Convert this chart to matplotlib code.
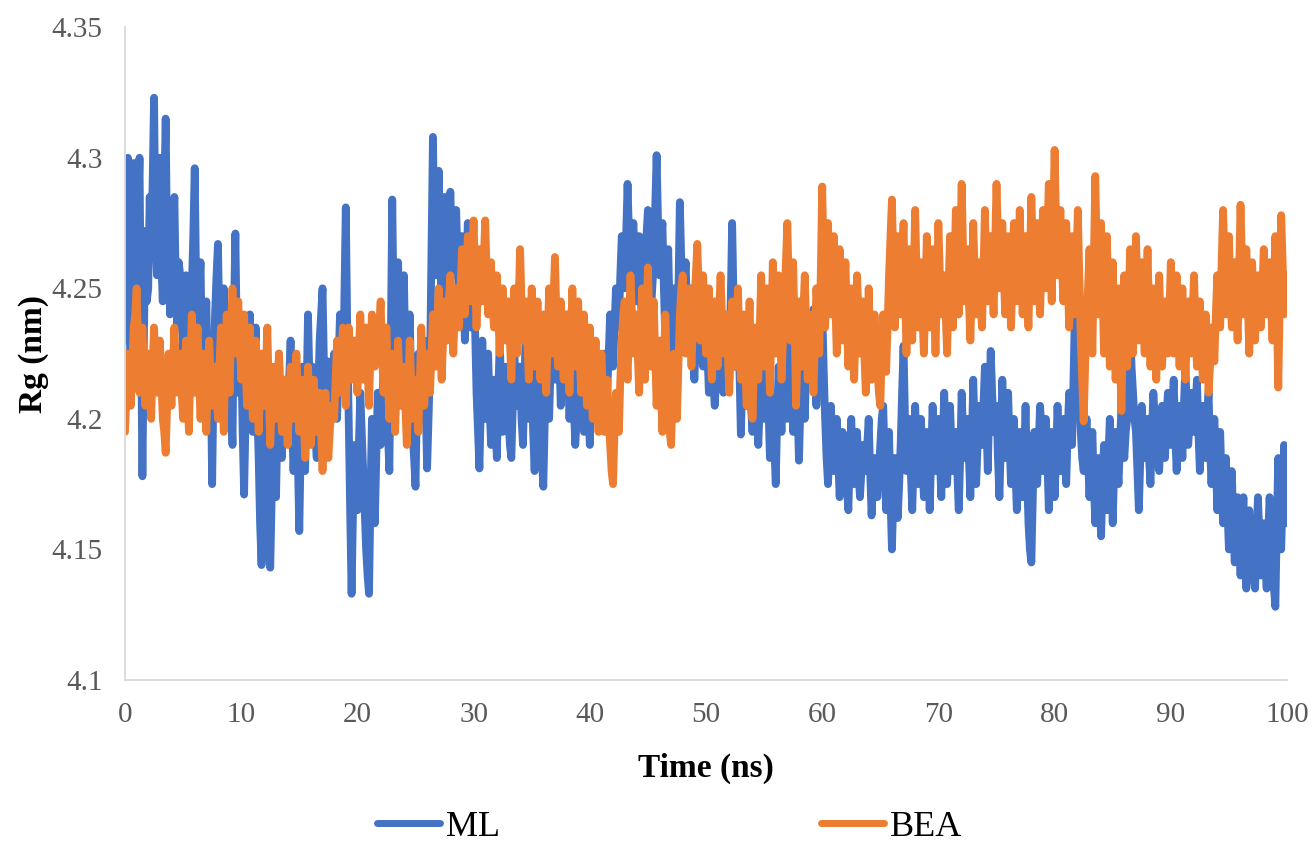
import numpy as np
import matplotlib.pyplot as plt

# Radius of gyration over a 100 ns trajectory, one frame every 0.125 ns
# (eight frames per row, one row per nanosecond)
STEP_NS = 0.125

rg_ml = [
    4.230, 4.265, 4.300, 4.240, 4.215, 4.260, 4.298, 4.255,
    4.240, 4.275, 4.300, 4.235, 4.178, 4.230, 4.272, 4.245,
    4.250, 4.285, 4.265, 4.290, 4.323, 4.270, 4.255, 4.280,
    4.300, 4.260, 4.245, 4.285, 4.315, 4.265, 4.270, 4.240,
    4.250, 4.270, 4.285, 4.250, 4.235, 4.260, 4.255, 4.240,
    4.225, 4.245, 4.255, 4.230, 4.215, 4.240, 4.250, 4.270,
    4.296, 4.250, 4.225, 4.245, 4.260, 4.225, 4.205, 4.230,
    4.245, 4.215, 4.200, 4.220, 4.175, 4.215, 4.240, 4.255,
    4.267, 4.235, 4.215, 4.235, 4.250, 4.220, 4.200, 4.220,
    4.235, 4.210, 4.190, 4.240, 4.271, 4.230, 4.210, 4.225,
    4.225, 4.195, 4.171, 4.200, 4.215, 4.225, 4.240, 4.215,
    4.195, 4.220, 4.235, 4.205, 4.185, 4.160, 4.144, 4.180,
    4.205, 4.180, 4.165, 4.150, 4.143, 4.170, 4.190, 4.175,
    4.170, 4.200, 4.225, 4.200, 4.185, 4.205, 4.215, 4.200,
    4.195, 4.215, 4.230, 4.200, 4.180, 4.195, 4.210, 4.185,
    4.157, 4.190, 4.220, 4.200, 4.180, 4.210, 4.240, 4.215,
    4.200, 4.220, 4.215, 4.195, 4.185, 4.210, 4.230, 4.240,
    4.250, 4.220, 4.195, 4.210, 4.222, 4.200, 4.205, 4.215,
    4.225, 4.210, 4.200, 4.220, 4.240, 4.225, 4.215, 4.245,
    4.281, 4.235, 4.200, 4.165, 4.133, 4.165, 4.190, 4.175,
    4.165, 4.190, 4.210, 4.195, 4.180, 4.165, 4.150, 4.140,
    4.133, 4.170, 4.200, 4.180, 4.160, 4.185, 4.210, 4.200,
    4.190, 4.205, 4.220, 4.210, 4.205, 4.195, 4.180, 4.230,
    4.284, 4.240, 4.215, 4.240, 4.260, 4.235, 4.220, 4.240,
    4.255, 4.225, 4.205, 4.225, 4.240, 4.215, 4.195, 4.185,
    4.174, 4.205, 4.225, 4.210, 4.200, 4.215, 4.230, 4.205,
    4.181, 4.200, 4.220, 4.265, 4.308, 4.270, 4.255, 4.275,
    4.295, 4.265, 4.240, 4.265, 4.285, 4.260, 4.250, 4.270,
    4.287, 4.265, 4.255, 4.270, 4.280, 4.260, 4.245, 4.260,
    4.270, 4.250, 4.230, 4.255, 4.275, 4.250, 4.235, 4.250,
    4.265, 4.235, 4.210, 4.195, 4.181, 4.205, 4.230, 4.210,
    4.200, 4.215, 4.225, 4.205, 4.190, 4.205, 4.215, 4.200,
    4.185, 4.210, 4.230, 4.210, 4.195, 4.210, 4.220, 4.205,
    4.200, 4.190, 4.185, 4.205, 4.225, 4.215, 4.205, 4.215,
    4.220, 4.200, 4.190, 4.215, 4.235, 4.215, 4.200, 4.210,
    4.215, 4.195, 4.180, 4.205, 4.230, 4.210, 4.195, 4.185,
    4.174, 4.200, 4.225, 4.210, 4.200, 4.220, 4.240, 4.225,
    4.215, 4.230, 4.245, 4.225, 4.205, 4.220, 4.230, 4.235,
    4.240, 4.220, 4.200, 4.215, 4.225, 4.205, 4.190, 4.200,
    4.210, 4.225, 4.235, 4.215, 4.195, 4.210, 4.220, 4.205,
    4.190, 4.210, 4.230, 4.215, 4.205, 4.210, 4.215, 4.205,
    4.200, 4.215, 4.225, 4.215, 4.210, 4.225, 4.240, 4.230,
    4.220, 4.235, 4.250, 4.240, 4.235, 4.255, 4.270, 4.260,
    4.250, 4.270, 4.290, 4.270, 4.255, 4.265, 4.275, 4.260,
    4.245, 4.260, 4.270, 4.250, 4.235, 4.250, 4.265, 4.270,
    4.280, 4.260, 4.240, 4.250, 4.260, 4.280, 4.301, 4.275,
    4.255, 4.265, 4.275, 4.250, 4.230, 4.250, 4.265, 4.240,
    4.220, 4.235, 4.250, 4.230, 4.215, 4.250, 4.283, 4.260,
    4.240, 4.250, 4.260, 4.240, 4.225, 4.240, 4.250, 4.230,
    4.215, 4.230, 4.245, 4.235, 4.230, 4.225, 4.220, 4.230,
    4.240, 4.225, 4.210, 4.220, 4.230, 4.215, 4.205, 4.215,
    4.225, 4.235, 4.240, 4.225, 4.210, 4.225, 4.235, 4.225,
    4.215, 4.245, 4.275, 4.245, 4.220, 4.235, 4.245, 4.220,
    4.194, 4.215, 4.230, 4.215, 4.205, 4.210, 4.220, 4.205,
    4.195, 4.210, 4.225, 4.205, 4.190, 4.205, 4.215, 4.205,
    4.200, 4.215, 4.230, 4.205, 4.185, 4.200, 4.210, 4.190,
    4.175, 4.200, 4.220, 4.205, 4.195, 4.215, 4.230, 4.215,
    4.200, 4.220, 4.240, 4.215, 4.195, 4.210, 4.225, 4.205,
    4.184, 4.205, 4.220, 4.210, 4.200, 4.220, 4.235, 4.225,
    4.215, 4.230, 4.242, 4.220, 4.205, 4.220, 4.230, 4.235,
    4.242, 4.220, 4.200, 4.185, 4.175, 4.190, 4.205, 4.190,
    4.180, 4.190, 4.200, 4.185, 4.170, 4.185, 4.195, 4.190,
    4.185, 4.175, 4.165, 4.185, 4.200, 4.185, 4.175, 4.185,
    4.195, 4.180, 4.170, 4.180, 4.190, 4.185, 4.180, 4.190,
    4.200, 4.180, 4.163, 4.175, 4.185, 4.175, 4.170, 4.180,
    4.190, 4.200, 4.205, 4.185, 4.165, 4.180, 4.195, 4.170,
    4.150, 4.170, 4.185, 4.175, 4.162, 4.175, 4.190, 4.210,
    4.228, 4.200, 4.180, 4.190, 4.200, 4.180, 4.165, 4.185,
    4.205, 4.190, 4.175, 4.185, 4.200, 4.185, 4.170, 4.180,
    4.195, 4.180, 4.165, 4.185, 4.205, 4.190, 4.180, 4.190,
    4.200, 4.185, 4.170, 4.190, 4.210, 4.190, 4.175, 4.190,
    4.205, 4.190, 4.180, 4.185, 4.195, 4.180, 4.165, 4.185,
    4.210, 4.195, 4.185, 4.190, 4.200, 4.185, 4.170, 4.190,
    4.215, 4.195, 4.175, 4.190, 4.205, 4.195, 4.190, 4.205,
    4.220, 4.200, 4.180, 4.205, 4.226, 4.210, 4.195, 4.200,
    4.205, 4.185, 4.170, 4.190, 4.215, 4.200, 4.185, 4.195,
    4.210, 4.190, 4.175, 4.185, 4.200, 4.180, 4.165, 4.180,
    4.195, 4.180, 4.170, 4.185, 4.205, 4.180, 4.160, 4.150,
    4.145, 4.170, 4.195, 4.185, 4.175, 4.190, 4.205, 4.195,
    4.180, 4.190, 4.200, 4.185, 4.165, 4.180, 4.195, 4.185,
    4.170, 4.185, 4.205, 4.190, 4.180, 4.190, 4.200, 4.185,
    4.175, 4.195, 4.210, 4.200, 4.190, 4.215, 4.242, 4.235,
    4.225, 4.210, 4.195, 4.185, 4.180, 4.190, 4.200, 4.185,
    4.170, 4.185, 4.195, 4.175, 4.160, 4.170, 4.185, 4.170,
    4.155, 4.175, 4.190, 4.180, 4.165, 4.185, 4.200, 4.180,
    4.160, 4.180, 4.195, 4.185, 4.175, 4.190, 4.205, 4.195,
    4.185, 4.195, 4.200, 4.215, 4.234, 4.220, 4.210, 4.200,
    4.195, 4.180, 4.165, 4.185, 4.205, 4.195, 4.185, 4.195,
    4.200, 4.185, 4.175, 4.195, 4.210, 4.200, 4.190, 4.185,
    4.180, 4.195, 4.205, 4.195, 4.185, 4.200, 4.210, 4.200,
    4.190, 4.205, 4.215, 4.195, 4.180, 4.195, 4.205, 4.195,
    4.185, 4.205, 4.220, 4.205, 4.190, 4.200, 4.210, 4.200,
    4.195, 4.205, 4.215, 4.195, 4.180, 4.195, 4.205, 4.195,
    4.185, 4.200, 4.210, 4.190, 4.175, 4.190, 4.200, 4.185,
    4.165, 4.180, 4.195, 4.175, 4.160, 4.175, 4.185, 4.165,
    4.150, 4.165, 4.180, 4.160, 4.145, 4.160, 4.170, 4.155,
    4.140, 4.155, 4.170, 4.150, 4.135, 4.150, 4.165, 4.155,
    4.150, 4.140, 4.135, 4.155, 4.170, 4.155, 4.140, 4.150,
    4.160, 4.145, 4.135, 4.155, 4.170, 4.160, 4.145, 4.135,
    4.128, 4.160, 4.185, 4.165, 4.150, 4.170, 4.190, 4.175,
    4.160,
]

rg_bea = [
    4.195, 4.210, 4.225, 4.215, 4.205, 4.220, 4.235, 4.240,
    4.250, 4.230, 4.210, 4.225, 4.235, 4.220, 4.205, 4.215,
    4.225, 4.210, 4.200, 4.220, 4.235, 4.220, 4.210, 4.220,
    4.230, 4.215, 4.200, 4.195, 4.187, 4.205, 4.225, 4.215,
    4.205, 4.220, 4.235, 4.220, 4.210, 4.215, 4.225, 4.210,
    4.200, 4.215, 4.230, 4.210, 4.195, 4.220, 4.240, 4.225,
    4.210, 4.225, 4.235, 4.215, 4.200, 4.215, 4.225, 4.210,
    4.195, 4.215, 4.230, 4.215, 4.205, 4.210, 4.220, 4.210,
    4.200, 4.220, 4.235, 4.215, 4.195, 4.220, 4.240, 4.225,
    4.210, 4.235, 4.250, 4.235, 4.225, 4.235, 4.245, 4.230,
    4.215, 4.230, 4.240, 4.220, 4.205, 4.220, 4.235, 4.215,
    4.200, 4.215, 4.230, 4.210, 4.195, 4.210, 4.225, 4.215,
    4.205, 4.220, 4.235, 4.210, 4.190, 4.205, 4.220, 4.210,
    4.200, 4.210, 4.225, 4.210, 4.195, 4.205, 4.215, 4.200,
    4.190, 4.205, 4.220, 4.210, 4.200, 4.210, 4.225, 4.210,
    4.195, 4.205, 4.215, 4.200, 4.185, 4.205, 4.220, 4.205,
    4.190, 4.205, 4.215, 4.205, 4.195, 4.200, 4.210, 4.195,
    4.180, 4.195, 4.210, 4.195, 4.185, 4.195, 4.205, 4.200,
    4.200, 4.215, 4.230, 4.220, 4.210, 4.225, 4.235, 4.220,
    4.205, 4.220, 4.235, 4.225, 4.215, 4.220, 4.230, 4.220,
    4.210, 4.225, 4.240, 4.225, 4.215, 4.225, 4.235, 4.220,
    4.205, 4.225, 4.240, 4.230, 4.220, 4.225, 4.230, 4.235,
    4.245, 4.225, 4.210, 4.225, 4.235, 4.215, 4.200, 4.215,
    4.225, 4.210, 4.195, 4.215, 4.230, 4.215, 4.205, 4.215,
    4.220, 4.205, 4.190, 4.210, 4.230, 4.215, 4.200, 4.210,
    4.215, 4.205, 4.195, 4.215, 4.235, 4.220, 4.205, 4.215,
    4.225, 4.215, 4.210, 4.225, 4.240, 4.230, 4.220, 4.235,
    4.250, 4.230, 4.215, 4.230, 4.245, 4.235, 4.230, 4.245,
    4.255, 4.240, 4.225, 4.240, 4.250, 4.240, 4.235, 4.250,
    4.265, 4.250, 4.240, 4.255, 4.270, 4.255, 4.245, 4.260,
    4.276, 4.255, 4.235, 4.250, 4.265, 4.255, 4.245, 4.260,
    4.276, 4.255, 4.240, 4.250, 4.260, 4.245, 4.235, 4.245,
    4.255, 4.240, 4.225, 4.240, 4.250, 4.240, 4.230, 4.235,
    4.245, 4.230, 4.215, 4.235, 4.250, 4.235, 4.225, 4.245,
    4.265, 4.245, 4.230, 4.240, 4.245, 4.230, 4.215, 4.235,
    4.250, 4.235, 4.220, 4.235, 4.245, 4.230, 4.215, 4.230,
    4.240, 4.225, 4.210, 4.230, 4.250, 4.235, 4.225, 4.245,
    4.262, 4.240, 4.220, 4.235, 4.245, 4.230, 4.215, 4.230,
    4.240, 4.225, 4.210, 4.230, 4.250, 4.235, 4.220, 4.235,
    4.245, 4.225, 4.210, 4.225, 4.240, 4.220, 4.205, 4.220,
    4.235, 4.215, 4.200, 4.215, 4.230, 4.210, 4.195, 4.210,
    4.225, 4.210, 4.195, 4.205, 4.215, 4.200, 4.190, 4.180,
    4.175, 4.195, 4.210, 4.200, 4.195, 4.215, 4.230, 4.240,
    4.245, 4.230, 4.215, 4.235, 4.255, 4.240, 4.225, 4.235,
    4.240, 4.225, 4.210, 4.230, 4.250, 4.230, 4.215, 4.240,
    4.258, 4.240, 4.220, 4.235, 4.245, 4.225, 4.205, 4.220,
    4.230, 4.210, 4.195, 4.220, 4.240, 4.220, 4.200, 4.195,
    4.190, 4.210, 4.225, 4.210, 4.200, 4.220, 4.240, 4.250,
    4.255, 4.240, 4.225, 4.240, 4.250, 4.235, 4.220, 4.235,
    4.245, 4.255, 4.267, 4.250, 4.230, 4.245, 4.255, 4.240,
    4.225, 4.240, 4.250, 4.230, 4.215, 4.230, 4.245, 4.230,
    4.220, 4.240, 4.255, 4.240, 4.225, 4.235, 4.240, 4.225,
    4.210, 4.230, 4.245, 4.230, 4.220, 4.235, 4.250, 4.230,
    4.215, 4.230, 4.240, 4.220, 4.205, 4.225, 4.245, 4.220,
    4.200, 4.220, 4.235, 4.225, 4.215, 4.235, 4.255, 4.235,
    4.220, 4.235, 4.250, 4.230, 4.210, 4.235, 4.260, 4.240,
    4.225, 4.240, 4.255, 4.235, 4.215, 4.230, 4.245, 4.260,
    4.275, 4.250, 4.230, 4.245, 4.260, 4.235, 4.205, 4.225,
    4.245, 4.235, 4.220, 4.240, 4.255, 4.235, 4.215, 4.230,
    4.240, 4.225, 4.210, 4.230, 4.250, 4.240, 4.225, 4.255,
    4.289, 4.260, 4.235, 4.255, 4.275, 4.255, 4.240, 4.255,
    4.270, 4.245, 4.225, 4.245, 4.265, 4.245, 4.230, 4.245,
    4.260, 4.240, 4.220, 4.235, 4.250, 4.230, 4.215, 4.235,
    4.255, 4.240, 4.225, 4.235, 4.245, 4.225, 4.210, 4.230,
    4.250, 4.230, 4.215, 4.225, 4.240, 4.230, 4.220, 4.210,
    4.205, 4.225, 4.240, 4.230, 4.218, 4.235, 4.255, 4.270,
    4.284, 4.260, 4.235, 4.250, 4.270, 4.255, 4.240, 4.260,
    4.275, 4.250, 4.225, 4.245, 4.265, 4.245, 4.230, 4.255,
    4.280, 4.255, 4.235, 4.250, 4.260, 4.240, 4.225, 4.245,
    4.270, 4.250, 4.235, 4.250, 4.265, 4.245, 4.225, 4.250,
    4.275, 4.255, 4.240, 4.245, 4.255, 4.240, 4.225, 4.250,
    4.270, 4.250, 4.235, 4.255, 4.280, 4.260, 4.240, 4.265,
    4.290, 4.265, 4.245, 4.255, 4.265, 4.245, 4.230, 4.250,
    4.275, 4.255, 4.240, 4.250, 4.260, 4.245, 4.235, 4.255,
    4.280, 4.260, 4.245, 4.255, 4.270, 4.255, 4.240, 4.265,
    4.290, 4.270, 4.250, 4.260, 4.275, 4.255, 4.240, 4.255,
    4.270, 4.250, 4.235, 4.255, 4.275, 4.260, 4.245, 4.260,
    4.280, 4.260, 4.240, 4.255, 4.270, 4.250, 4.235, 4.260,
    4.285, 4.265, 4.245, 4.260, 4.275, 4.255, 4.240, 4.260,
    4.280, 4.265, 4.250, 4.270, 4.290, 4.265, 4.245, 4.275,
    4.303, 4.275, 4.255, 4.265, 4.280, 4.260, 4.245, 4.260,
    4.275, 4.255, 4.235, 4.250, 4.270, 4.255, 4.240, 4.260,
    4.280, 4.255, 4.230, 4.215, 4.199, 4.220, 4.240, 4.250,
    4.265, 4.245, 4.225, 4.260, 4.293, 4.265, 4.240, 4.255,
    4.275, 4.250, 4.225, 4.250, 4.270, 4.245, 4.220, 4.240,
    4.260, 4.235, 4.215, 4.230, 4.250, 4.225, 4.203, 4.230,
    4.255, 4.235, 4.220, 4.245, 4.265, 4.245, 4.225, 4.245,
    4.270, 4.250, 4.230, 4.245, 4.260, 4.240, 4.225, 4.245,
    4.265, 4.240, 4.220, 4.235, 4.250, 4.230, 4.215, 4.235,
    4.255, 4.235, 4.220, 4.235, 4.245, 4.235, 4.225, 4.240,
    4.260, 4.240, 4.225, 4.240, 4.255, 4.235, 4.220, 4.235,
    4.250, 4.230, 4.215, 4.230, 4.245, 4.235, 4.225, 4.240,
    4.255, 4.235, 4.220, 4.235, 4.245, 4.230, 4.215, 4.225,
    4.240, 4.225, 4.210, 4.220, 4.235, 4.230, 4.222, 4.240,
    4.255, 4.245, 4.235, 4.260, 4.280, 4.260, 4.240, 4.255,
    4.270, 4.250, 4.235, 4.250, 4.260, 4.245, 4.230, 4.255,
    4.282, 4.260, 4.240, 4.250, 4.265, 4.245, 4.225, 4.240,
    4.260, 4.245, 4.230, 4.245, 4.255, 4.245, 4.235, 4.250,
    4.265, 4.250, 4.240, 4.250, 4.260, 4.245, 4.230, 4.250,
    4.270, 4.240, 4.212, 4.245, 4.278, 4.260, 4.240, 4.250,
    4.255,
]

x_ticks = [0, 10, 20, 30, 40, 50, 60, 70, 80, 90, 100]
y_ticks = [4.1, 4.15, 4.2, 4.25, 4.3, 4.35]
y_tick_labels = ["4.1", "4.15", "4.2", "4.25", "4.3", "4.35"]

time_ns = np.arange(len(rg_ml)) * STEP_NS

plt.rcParams["font.family"] = ["Liberation Serif", "DejaVu Serif"]

fig = plt.figure(figsize=(13.13, 8.51), dpi=100)
ax = fig.add_axes([0.0952, 0.201, 0.885, 0.767])

ax.plot(time_ns, rg_ml, color="#4472C4", lw=5.6, label="ML",
        solid_joinstyle="round", solid_capstyle="round")
ax.plot(time_ns, rg_bea, color="#ED7D31", lw=5.6, label="BEA",
        solid_joinstyle="round", solid_capstyle="round")

ax.set_xlim(0, 100)
ax.set_ylim(4.1, 4.35)
ax.set_xticks(x_ticks)
ax.set_yticks(y_ticks)
ax.set_yticklabels(y_tick_labels)
ax.tick_params(axis="both", length=0, labelsize=21, labelcolor="#595959")
ax.tick_params(axis="x", pad=16)
ax.tick_params(axis="y", pad=16)

for side in ("top", "right"):
    ax.spines[side].set_visible(False)
for side in ("left", "bottom"):
    ax.spines[side].set_color("#D9D9D9")
    ax.spines[side].set_linewidth(1.3)

ax.set_xlabel("Time (ns)", fontsize=24, fontweight="bold", labelpad=18)
ax.set_ylabel("Rg (nm)", fontsize=24, fontweight="bold", labelpad=2)

leg = fig.legend(loc="center", bbox_to_anchor=(0.51, 0.028), ncol=2,
                 frameon=False, fontsize=26, handlelength=1.75,
                 handletextpad=0.15, columnspacing=8.9)
for line in leg.get_lines():
    line.set_linewidth(5.0)

fig.savefig("out.png", dpi=100)
